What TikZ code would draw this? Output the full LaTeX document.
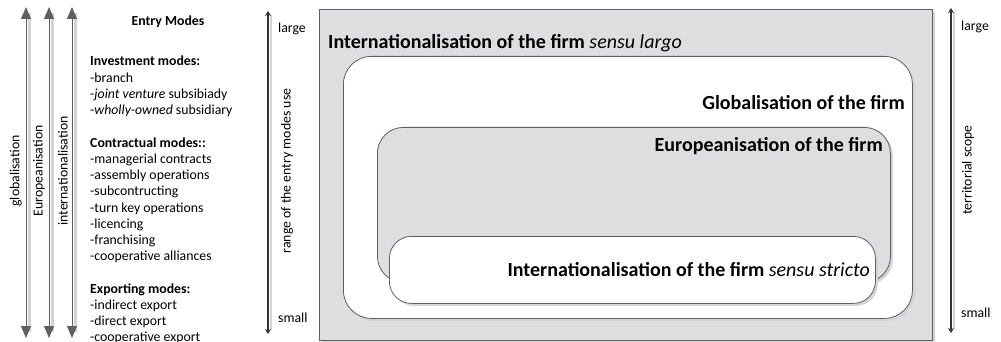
\documentclass[tikz,border=0pt]{standalone}
\usepackage{fontspec}
\setmainfont{Carlito}
\usetikzlibrary{arrows.meta,positioning,shadows}

\definecolor{boxgray}{RGB}{221,222,224}
\definecolor{linegray}{RGB}{95,95,95}
\definecolor{shadegray}{RGB}{212,212,212}

\tikzset{
  spanarrow/.style={line width=1pt, draw=linegray, {Triangle[length=12pt,width=10pt,fill=linegray]}-{Triangle[length=12pt,width=10pt,fill=linegray]}},
  scalearrow/.style={line width=2.2pt, draw=black!80, {Stealth[length=5pt,width=6pt]}-{Stealth[length=5pt,width=6pt]}},
  arrshadow/.style={line width=3pt, draw=shadegray},
  firmbox/.style={draw=linegray, line width=0.8pt, anchor=north west, inner sep=0pt,
    drop shadow={shadow xshift=2.5pt, shadow yshift=-2.5pt, fill=shadegray, opacity=1}},
  boxtitle/.style={font=\fontsize{20}{24}\selectfont, inner sep=0pt},
  modelist/.style={align=left, anchor=north west, inner sep=0pt},
  scalelabel/.style={anchor=west, inner sep=0pt}
}

\begin{document}
\begin{tikzpicture}[x=1pt, y=-1pt, font=\fontsize{13.8}{16.24}\selectfont]
\useasboundingbox (0,0) rectangle (1001,342);

% scope arrows on the left
\foreach \x/\lab/\name in {26/globalisation/glob, 49/Europeanisation/europ, 72/internationalisation/inter} {
  \coordinate (\name-top) at (\x,7);
  \coordinate (\name-bot) at (\x,338);
  \draw[arrshadow] ([xshift=3pt,yshift=-6pt]\name-top) -- ([xshift=3pt,yshift=6pt]\name-bot);
  \draw[spanarrow] (\name-top) -- (\name-bot);
  \node[rotate=90, anchor=south, inner sep=0pt] (\name-lab) at (\x-4,171) {\lab};
}

% entry modes
\node[font=\fontsize{13.8}{16}\selectfont\bfseries] (entry) at (168,22) {Entry Modes};
\node[modelist] (modes) at (90,56) {\textbf{Investment modes:}\\
  -branch\\
  -\textit{joint venture} subsibiady\\
  -\textit{wholly-owned} subsidiary\\[16.24pt]
  \textbf{Contractual modes::}\\
  -managerial contracts\\
  -assembly operations\\
  -subcontructing\\
  -turn key operations\\
  -licencing\\
  -franchising\\
  -cooperative alliances\\[16.24pt]
  \textbf{Exporting modes:}\\
  -indirect export\\
  -direct export\\
  -cooperative export};

% range of the entry modes
\coordinate (range-top) at (268,11);
\coordinate (range-bot) at (268,334);
\draw[arrshadow, line width=2pt] ([xshift=2.5pt,yshift=-4pt]range-top) -- ([xshift=2.5pt,yshift=4pt]range-bot);
\draw[scalearrow] (range-top) -- (range-bot);
\node[scalelabel] (range-large) at (278,29) {large};
\node[scalelabel] (range-small) at (278,318) {small};
\node[rotate=90, inner sep=0pt] (range-lab) at (287,171) {range of the entry modes use};

% nested firm boxes
\node[firmbox, fill=boxgray, minimum width=613pt, minimum height=331pt] (largo) at (319,9) {};
\node[firmbox, fill=white, rounded corners=28pt, minimum width=569pt, minimum height=262pt] (glob) at (343,56) {};
\node[firmbox, fill=boxgray, rounded corners=26pt, minimum width=513pt, minimum height=155pt] (euro) at (377,127) {};
\node[firmbox, fill=white, rounded corners=22pt, minimum width=486pt, minimum height=67pt] (stricto) at (389,236) {};

\node[boxtitle, anchor=west] (largo-lab) at (328,43) {\textbf{Internationalisation of the firm} \textit{sensu largo}};
\node[boxtitle, anchor=east] (glob-lab) at (905,103) {\textbf{Globalisation of the firm}};
\node[boxtitle, anchor=east] (euro-lab) at (883,146) {\textbf{Europeanisation of the firm}};
\node[boxtitle, anchor=east] (stricto-lab) at (870,270) {\textbf{Internationalisation of the firm} \textit{sensu stricto}};

% territorial scope
\coordinate (terr-top) at (951,8);
\coordinate (terr-bot) at (951,333);
\draw[arrshadow, line width=2pt] ([xshift=2.5pt,yshift=-4pt]terr-top) -- ([xshift=2.5pt,yshift=4pt]terr-bot);
\draw[scalearrow] (terr-top) -- (terr-bot);
\node[scalelabel] (terr-large) at (961,27) {large};
\node[scalelabel] (terr-small) at (961,313) {small};
\node[rotate=90, inner sep=0pt] (terr-lab) at (968,170) {territorial scope};
\end{tikzpicture}
\end{document}
